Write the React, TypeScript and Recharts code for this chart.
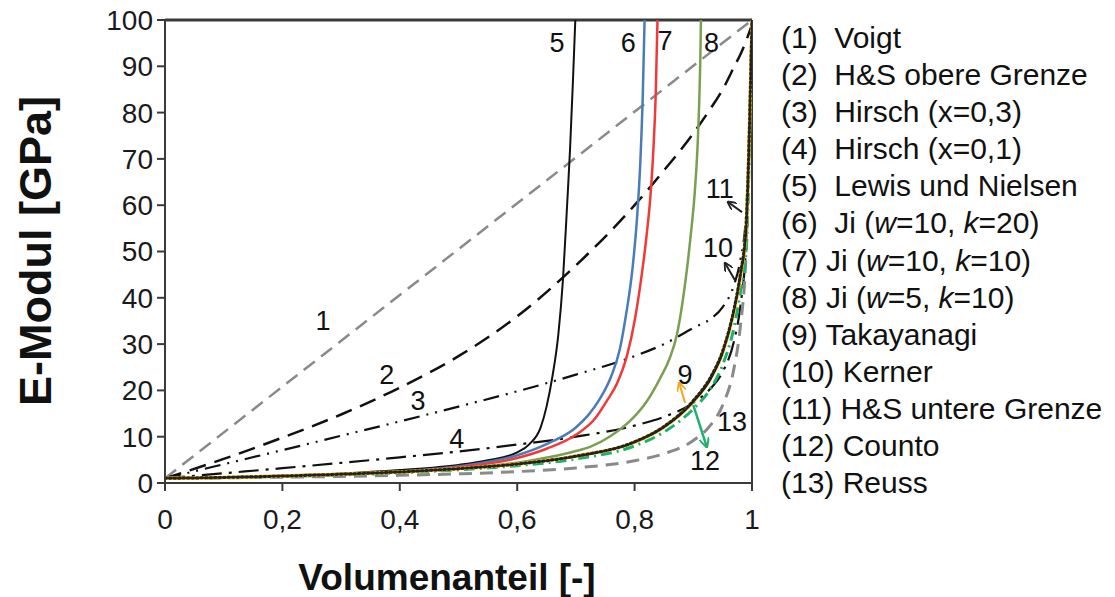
import { LineChart, Line, XAxis, YAxis, ReferenceLine, ReferenceDot } from "recharts";

// shared volume-fraction grid for the smooth "bundle" curves
const xGrid = [0, 0.1, 0.2, 0.3, 0.4, 0.5, 0.6, 0.7, 0.8, 0.85, 0.9, 0.93, 0.95, 0.97, 0.98, 0.99, 1];

const voigtX = [0, 1];
const voigtY = [1, 100];
const hsUpperY = [1, 5.2, 9.8, 14.8, 20.6, 27.4, 36, 47, 60, 67.5, 75.5, 81, 85, 90, 92.5, 95.5, 99];
const hirsch03Y = [1, 4.05, 7.1, 10.2, 13.3, 16.5, 19.8, 23.4, 27.4, 30, 33.5, 35.5, 38, 43, 48, 58, 100];
const hirsch01Y = [1, 2.1, 3.2, 4.35, 5.55, 6.8, 8.3, 10, 12.4, 14.3, 17.3, 20.5, 24, 31, 38, 52, 100];
const takayanagiY = [1, 1.2, 1.5, 1.9, 2.4, 3.1, 4.1, 5.8, 8.8, 12.1, 17.6, 22.7, 28.2, 37.5, 44.5, 55, 100];
const kernerY = [1, 1.2, 1.5, 1.9, 2.4, 3.1, 4.1, 5.7, 8.8, 12, 17.5, 22.5, 28, 37.5, 44.5, 54, 100];
const hsLowerY = [1, 1.2, 1.5, 1.9, 2.4, 3.1, 4.1, 5.8, 8.9, 12.2, 17.8, 23, 28.5, 38, 45, 56, 100];
const countoY = [1, 1.15, 1.4, 1.75, 2.2, 2.85, 3.75, 5.2, 8, 11, 16, 20.5, 25.5, 34, 41, 50, 100];
const reussY = [1, 1.11, 1.25, 1.42, 1.66, 1.98, 2.46, 3.26, 4.81, 6.31, 9.17, 12.6, 16.8, 25.2, 33.6, 50.3, 100];

// curves with a vertical asymptote get their own x values
const lewisX = [0, 0.1, 0.2, 0.3, 0.4, 0.5, 0.55, 0.6, 0.62, 0.64, 0.65, 0.66, 0.67, 0.678, 0.685, 0.69, 0.695, 0.699];
const lewisY = [1, 1.25, 1.6, 2.05, 2.8, 3.9, 4.9, 6.6, 8.3, 12, 16.5, 23, 32, 44, 60, 72, 87, 100];
const ji1020X = [0, 0.1, 0.2, 0.3, 0.4, 0.5, 0.6, 0.65, 0.7, 0.72, 0.74, 0.76, 0.775, 0.785, 0.797, 0.804, 0.81, 0.814, 0.817];
const ji1020Y = [1, 1.2, 1.45, 1.85, 2.45, 3.6, 6, 8.4, 12, 14.5, 18, 23, 29, 36, 47, 57, 70, 84, 100];
const ji1010X = [0, 0.1, 0.2, 0.3, 0.4, 0.5, 0.6, 0.65, 0.7, 0.733, 0.753, 0.77, 0.787, 0.8, 0.81, 0.82, 0.827, 0.832, 0.836, 0.839];
const ji1010Y = [1, 1.2, 1.45, 1.8, 2.35, 3.4, 5.4, 7.4, 10.4, 14, 17.8, 21.5, 27.5, 35, 43, 53, 62, 72, 84, 100];
const ji510X = [0, 0.1, 0.2, 0.3, 0.4, 0.5, 0.6, 0.656, 0.7, 0.724, 0.76, 0.797, 0.82, 0.843, 0.86, 0.872, 0.881, 0.889, 0.896, 0.902, 0.907, 0.91, 0.912, 0.913];
const ji510Y = [1, 1.2, 1.45, 1.8, 2.3, 3.1, 4.4, 5.6, 6.9, 7.8, 10.2, 14, 17.5, 22.5, 27, 32, 38.5, 46, 54, 62, 72, 82, 92, 100];

const xTicks = [0, 0.2, 0.4, 0.6, 0.8, 1];
const yTicks = [0, 10, 20, 30, 40, 50, 60, 70, 80, 90, 100];

const FONT = "'Liberation Sans', Arial, Helvetica, sans-serif";
const AXIS = "#3a3a3a";

const pts = (xs: number[], ys: number[]) => xs.map((x, i) => ({ x, y: ys[i] }));

const curveLabels = [
  { t: "1", x: 0.269, y: 35.2 },
  { t: "2", x: 0.378, y: 23.5 },
  { t: "3", x: 0.431, y: 17.9 },
  { t: "4", x: 0.497, y: 9.7 },
  { t: "5", x: 0.668, y: 95.2 },
  { t: "6", x: 0.789, y: 95.2 },
  { t: "7", x: 0.852, y: 95.6 },
  { t: "8", x: 0.931, y: 95.2 },
  { t: "9", x: 0.886, y: 23.5 },
  { t: "10", x: 0.942, y: 50.8 },
  { t: "11", x: 0.945, y: 63.7 },
  { t: "12", x: 0.92, y: 4.8 },
  { t: "13", x: 0.966, y: 13.4 },
];

const legendItems = [
  <>(1)  Voigt</>,
  <>(2)  H&amp;S obere Grenze</>,
  <>(3)  Hirsch (x=0,3)</>,
  <>(4)  Hirsch (x=0,1)</>,
  <>(5)  Lewis und Nielsen</>,
  <>(6)  Ji (<i>w</i>=10, <i>k</i>=20)</>,
  <>(7) Ji (<i>w</i>=10, <i>k</i>=10)</>,
  <>(8) Ji (<i>w</i>=5, <i>k</i>=10)</>,
  <>(9) Takayanagi</>,
  <>(10) Kerner</>,
  <>(11) H&amp;S untere Grenze</>,
  <>(12) Counto</>,
  <>(13) Reuss</>,
];

export default function App() {
  const tick = { fill: "#1a1a1a", fontSize: 28, fontFamily: FONT };
  const common = { isAnimationActive: false, dot: false, activeDot: false, dataKey: "y", type: "monotone" as const };

  return (
    <div style={{ position: "absolute", left: 0, top: 0, width: 1115, height: 597, background: "#fff", fontFamily: FONT }}>
      <LineChart width={1115} height={597} margin={{ top: 20, right: 363, left: 100, bottom: 64 }}>
        <defs>
          <marker id="ahBlack" viewBox="0 0 10 10" refX="9" refY="5" markerWidth="9" markerHeight="9" markerUnits="userSpaceOnUse" orient="auto">
            <path d="M0,0 L10,5 L0,10" fill="none" stroke="#222" strokeWidth="2" />
          </marker>
          <marker id="ahOrange" viewBox="0 0 10 10" refX="9" refY="5" markerWidth="9" markerHeight="9" markerUnits="userSpaceOnUse" orient="auto">
            <path d="M0,0 L10,5 L0,10" fill="none" stroke="#f0a820" strokeWidth="2" />
          </marker>
          <marker id="ahGreen" viewBox="0 0 10 10" refX="9" refY="5" markerWidth="10" markerHeight="10" markerUnits="userSpaceOnUse" orient="auto">
            <path d="M0,0 L10,5 L0,10" fill="none" stroke="#1fb070" strokeWidth="2" />
          </marker>
        </defs>

        <XAxis
          type="number"
          dataKey="x"
          domain={[0, 1]}
          ticks={xTicks}
          allowDataOverflow
          tickFormatter={(v: number) => String(v).replace(".", ",")}
          tick={tick}
          tickSize={8}
          tickMargin={18}
          height={50}
          axisLine={{ stroke: AXIS, strokeWidth: 2 }}
          tickLine={{ stroke: AXIS, strokeWidth: 2 }}
        />
        <YAxis
          type="number"
          domain={[0, 100]}
          ticks={yTicks}
          allowDataOverflow
          tick={tick}
          tickSize={8}
          tickMargin={4}
          width={65}
          axisLine={{ stroke: AXIS, strokeWidth: 2 }}
          tickLine={{ stroke: AXIS, strokeWidth: 2 }}
        />

        <ReferenceLine y={100} stroke={AXIS} strokeWidth={3} />
        <ReferenceLine x={1} stroke={AXIS} strokeWidth={2} />

        <Line {...common} data={pts(voigtX, voigtY)} stroke="#8a8a8a" strokeWidth={2.5} strokeDasharray="14 8" type="linear" />
        <Line {...common} data={pts(xGrid, hsUpperY)} stroke="#111" strokeWidth={2.5} strokeDasharray="17 9" />
        <Line {...common} data={pts(xGrid, hirsch03Y)} stroke="#111" strokeWidth={2.2} strokeDasharray="16 7 2 7 2 7" />
        <Line {...common} data={pts(xGrid, hirsch01Y)} stroke="#111" strokeWidth={2.2} strokeDasharray="20 7 3 7" />
        <Line {...common} data={pts(lewisX, lewisY)} stroke="#111" strokeWidth={2} />
        <Line {...common} data={pts(ji1020X, ji1020Y)} stroke="#4a7db5" strokeWidth={2.5} />
        <Line {...common} data={pts(ji1010X, ji1010Y)} stroke="#f03a3a" strokeWidth={2.5} />
        <Line {...common} data={pts(ji510X, ji510Y)} stroke="#79a052" strokeWidth={2.5} />
        <Line {...common} data={pts(xGrid, reussY)} stroke="#8a8a8a" strokeWidth={3} strokeDasharray="13 8" />
        <Line {...common} data={pts(xGrid, countoY)} stroke="#1fb070" strokeWidth={3} strokeDasharray="11 5 2 5" />
        <Line {...common} data={pts(xGrid, takayanagiY)} stroke="#f5b400" strokeWidth={3.5} />
        <Line {...common} data={pts(xGrid, kernerY)} stroke="#111" strokeWidth={1.5} />
        <Line {...common} data={pts(xGrid, hsLowerY)} stroke="#222" strokeWidth={3} strokeDasharray="1.5 3" strokeLinecap="round" />

        <ReferenceLine segment={[{ x: 0.886, y: 17.3 }, { x: 0.876, y: 21.6 }]} stroke="#f0a820" strokeWidth={2} markerEnd="url(#ahOrange)" />
        <ReferenceLine segment={[{ x: 0.971, y: 43.8 }, { x: 0.954, y: 47.5 }]} stroke="#222" strokeWidth={2} markerEnd="url(#ahBlack)" />
        <ReferenceLine segment={[{ x: 0.983, y: 58.5 }, { x: 0.959, y: 60.7 }]} stroke="#222" strokeWidth={2} markerEnd="url(#ahBlack)" />
        <ReferenceLine segment={[{ x: 0.9, y: 16.8 }, { x: 0.923, y: 7.8 }]} stroke="#1fb070" strokeWidth={2.5} markerEnd="url(#ahGreen)" />

        {curveLabels.map((l) => (
          <ReferenceDot
            key={l.t}
            x={l.x}
            y={l.y}
            r={0}
            fill="none"
            stroke="none"
            label={{ value: l.t, position: "center", fill: "#111", fontSize: 27, fontFamily: FONT }}
          />
        ))}
      </LineChart>

      <div
        style={{
          position: "absolute",
          left: 36,
          top: 251,
          transform: "translate(-50%, -50%) rotate(-90deg)",
          fontSize: 45,
          fontWeight: 700,
          whiteSpace: "nowrap",
          color: "#111",
        }}
      >
        E-Modul [GPa]
      </div>
      <div
        style={{
          position: "absolute",
          left: 447,
          top: 578,
          transform: "translate(-50%, -50%)",
          fontSize: 37,
          fontWeight: 700,
          whiteSpace: "nowrap",
          color: "#111",
        }}
      >
        Volumenanteil [-]
      </div>

      <div style={{ position: "absolute", left: 781, top: 19, fontSize: 30, lineHeight: "37.1px", color: "#111", whiteSpace: "pre" }}>
        {legendItems.map((item, i) => (
          <div key={i}>{item}</div>
        ))}
      </div>
    </div>
  );
}
